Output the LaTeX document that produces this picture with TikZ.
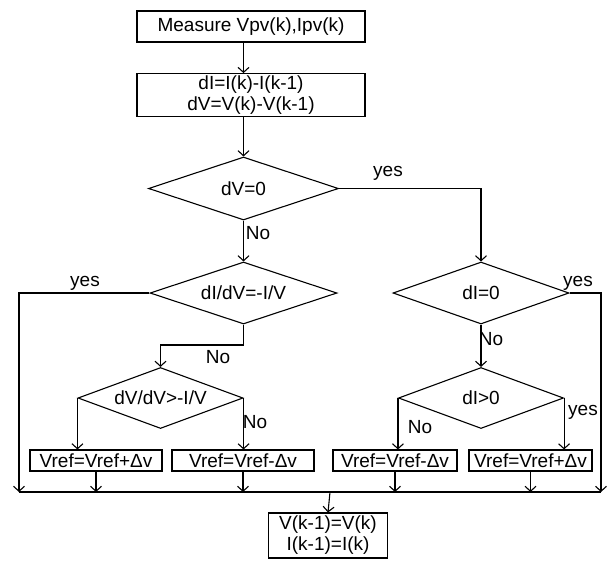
\documentclass[tikz,border=0pt]{standalone}
\usepackage{fontspec}
\setmainfont{Liberation Sans}
\usetikzlibrary{shapes.geometric,arrows.meta}

\begin{document}
\begin{tikzpicture}[x=1pt, y=-1pt, line width=1.1pt,
		font=\fontsize{19}{21}\selectfont,
		>={Straight Barb[length=5pt,width=11pt]},
		box/.style={rectangle, draw=black, inner xsep=3pt, inner ysep=2pt, align=center},
		decision/.style={diamond, draw=black, inner sep=0pt, shape aspect=3},
		lbl/.style={inner sep=0pt}]
				\useasboundingbox (0,0) rectangle (609,560);
				% process boxes
				\node[box, minimum width=228pt, minimum height=31pt] (meas) at (251,26.5) {Measure Vpv(k),Ipv(k)};
				\node[box, minimum width=228pt, minimum height=42pt] (diff) at (251,95) {dI=I(k)-I(k-1)\\dV=V(k)-V(k-1)};
				% decisions
				\node[decision, minimum width=190pt, minimum height=63pt] (dv0) at (243.5,188.5) {dV=0};
				\node[decision, minimum width=187pt, minimum height=62pt] (didv) at (243.5,293) {dI/dV=-I/V};
				\node[decision, minimum width=176pt, minimum height=62pt] (di0) at (481,293) {dI=0};
				\node[decision, minimum width=165pt, minimum height=61pt] (dvdv) at (160.5,398) {dV/dV>-I/V};
				\node[decision, minimum width=165pt, minimum height=61pt] (digt) at (481,398) {dI>0};
				% Vref updates
				\node[box, minimum width=132pt, minimum height=21pt] (inc1) at (96,460.5) {Vref=Vref+Δv};
				\node[box, minimum width=142pt, minimum height=21pt] (dec1) at (243,460.5) {Vref=Vref-Δv};
				\node[box, minimum width=124pt, minimum height=21pt] (dec2) at (395,460.5) {Vref=Vref-Δv};
				\node[box, minimum width=123pt, minimum height=21pt] (inc2) at (530.5,460.5) {Vref=Vref+Δv};
				\node[box, minimum width=119pt, minimum height=45pt] (upd) at (328,535.5) {V(k-1)=V(k)\\I(k-1)=I(k)};
				% labels
				\node[lbl] (yes1) at (388,173) {yes};
				\node[lbl] (no1) at (258,233) {No};
				\node[lbl] (yes2) at (85,283) {yes};
				\node[lbl] (no2) at (218,357) {No};
				\node[lbl] (no3) at (255,422) {No};
				\node[lbl] (yes3) at (578,283) {yes};
				\node[lbl] (no4) at (491,339) {No};
				\node[lbl] (no5) at (420,427) {No};
				\node[lbl] (yes4) at (583,412) {yes};
				% bus
				\coordinate (busL) at (19,492);
				\coordinate (busR) at (601,492);
				\coordinate (join) at (330,492);
				\coordinate (bend) at (243.5,345);
				
				\draw[->] (meas.south -| dv0.north) -- (diff.north -| dv0.north);
				\draw[->] (diff.south -| dv0.north) -- (dv0.north);
				\draw[->] (dv0.east) -| (di0.north);
				\draw[->] (dv0.south) -- (didv.north);
				\draw[->] (didv.west) -| (busL);
				\draw[->] (didv.south) -- (bend) -| (dvdv.north);
				\draw[->] (di0.east) -| (busR);
				\draw[->] (di0.south) -- (digt.north);
				\draw[->] (dvdv.west) -- (dvdv.west |- inc1.north);
				\draw[->] (dvdv.east) -- (dvdv.east |- dec1.north);
				\draw[->] (digt.west) -- (digt.west |- dec2.north);
				\draw[->] (digt.east) -- (digt.east |- inc2.north);
				\draw[->] (inc1.south) -- (inc1.south |- busL);
				\draw[->] (dec1.south) -- (dec1.south |- busL);
				\draw[->] (dec2.south) -- (dec2.south |- busL);
				\draw[->] (inc2.south) -- (inc2.south |- busL);
				\draw (busL) -- (busR);
				\draw[->] (join) -- (upd.north);
				\end{tikzpicture}
\end{document}
